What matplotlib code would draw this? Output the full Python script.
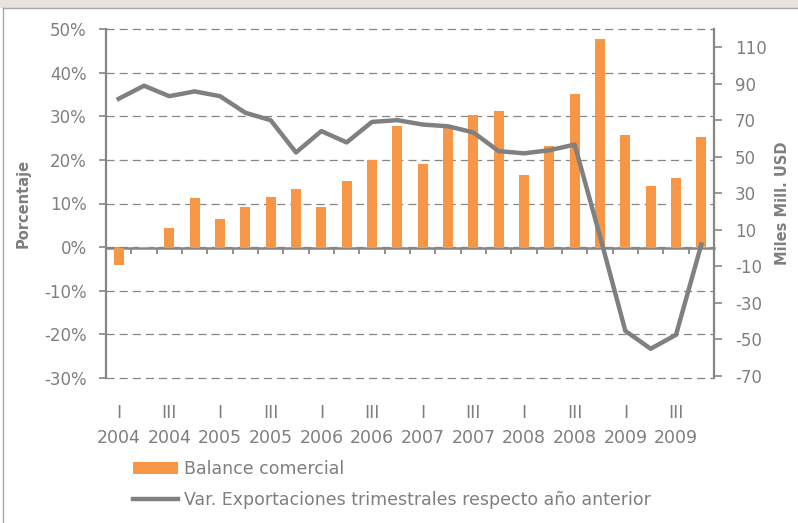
import numpy as np
import matplotlib
matplotlib.use("Agg")
import matplotlib.pyplot as plt
from matplotlib.patches import Rectangle
from matplotlib.lines import Line2D

plt.rcParams['font.family'] = ['DejaVu Sans']
plt.rcParams['axes.unicode_minus'] = False

# Quarterly data 2004 I .. 2009 IV
quarters = ['I', 'II', 'III', 'IV'] * 6
years = [str(y) for y in range(2004, 2010) for _ in range(4)]
balance = [-9.0, 0.8, 10.9, 27.5, 16.0, 22.6, 28.2, 32.5, 22.6, 36.9, 48.4, 67.0,
           46.0, 65.6, 72.9, 75.3, 40.2, 56.1, 84.4, 114.6, 61.9, 34.3, 38.5, 61.0]
export_var = [34.0, 37.0, 34.6, 35.7, 34.6, 30.8, 29.1, 21.7, 26.6, 24.0, 28.7, 29.1,
              28.1, 27.7, 26.3, 22.0, 21.5, 22.2, 23.5, 2.5, -19.2, -23.3, -20.1, 0.6]
left_ticks = list(range(-30, 51, 10))
right_ticks = list(range(-70, 111, 20))

txt = '#7f7f7f'
axis_col = '#868686'
orange = '#F79646'
grey_line = '#808080'

fig = plt.figure(figsize=(7.98, 5.23), dpi=100)

# window-like frame at the top and left
fig.patches.append(Rectangle((0, 1 - 7 / 523), 1, 7 / 523, transform=fig.transFigure,
                             color='#e7e3dc', zorder=0))
fig.lines.append(Line2D([3 / 798, 1], [1 - 8 / 523] * 2, transform=fig.transFigure,
                        color='#a8a8a8', lw=1))
fig.lines.append(Line2D([3 / 798] * 2, [0, 1 - 8 / 523], transform=fig.transFigure,
                        color='#a8a8a8', lw=1))

ax = fig.add_axes([106 / 798, 1 - 378 / 523, 608 / 798, 349 / 523])
ax2 = ax.twinx()

x = np.arange(len(balance))

# left axis: percent, grid
ax.set_ylim(-30, 50)
ax.set_yticks(left_ticks)
ax.set_yticklabels([f'{v}%' for v in left_ticks])
ax.yaxis.grid(True, linestyle=(0, (6.5, 4)), color=axis_col, lw=0.9)
for gl in ax.get_ygridlines():
    gl.set_clip_on(False)
ax.set_axisbelow(True)
ax.set_xlim(-0.5, len(balance) - 0.5)
for s in ['top', 'bottom', 'right']:
    ax.spines[s].set_visible(False)
ax.spines['left'].set_color(axis_col)
ax.spines['left'].set_linewidth(1.6)
ax.tick_params(axis='y', length=5, width=1.2, color=axis_col, labelcolor=txt,
               labelsize=12, pad=9)

ax.set_xticks(x[::2])
ax.set_xticklabels([f'{q}\n{y}' for q, y in zip(quarters[::2], years[::2])],
                   linespacing=1.45)
ax.set_xticks(np.arange(-0.5, len(balance), 1), minor=True)
ax.tick_params(axis='x', which='both', length=0, labelcolor=txt, labelsize=12.5, pad=19)

ax.set_ylabel('Porcentaje', color=txt, fontsize=10.5, fontweight='bold')
ax.yaxis.set_label_coords(-0.124, 0.5)

# right axis: bars in Miles Mill. USD
bars = ax2.bar(x, balance, width=0.4, color=orange, zorder=2,
               label='Balance comercial')
line, = ax2.plot(x, export_var, transform=ax.transData, color=grey_line, lw=3.2,
                 zorder=3, label='Var. Exportaciones trimestrales respecto año anterior')
ax2.set_ylim(-71.2, 120.1)
ax2.set_yticks(right_ticks)
for s in ['top', 'left']:
    ax2.spines[s].set_visible(False)
ax2.spines['right'].set_color(axis_col)
ax2.spines['right'].set_linewidth(1.6)
ax2.spines['bottom'].set_position(('data', 0))
ax2.spines['bottom'].set_color(axis_col)
ax2.spines['bottom'].set_linewidth(1.8)
ax2.spines['bottom'].set_zorder(1.5)
ax2.tick_params(axis='y', length=6, width=1.2, color=axis_col, labelcolor=txt,
                labelsize=12, pad=9)
ax2.xaxis.set_visible(True)
ax2.tick_params(axis='x', which='major', length=0, labelbottom=False, labeltop=False,
                top=False)
ax2.tick_params(axis='x', which='minor', bottom=True, top=False, length=4.5, width=1.3,
                color=axis_col, direction='out')
ax2.set_ylabel('Miles Mill. USD', color=txt, fontsize=10.5, fontweight='bold')
ax2.yaxis.set_label_coords(1.101, 0.5)

fig.legend(handles=[bars, line],
           labels=['Balance comercial', 'Var. Exportaciones trimestrales respecto año anterior'],
           loc='upper left', bbox_to_anchor=(133 / 798, 1 - 460 / 523),
           frameon=False, fontsize=12.5, labelcolor=txt, handlelength=2.6,
           handletextpad=0.35, labelspacing=0.75, borderpad=0, borderaxespad=0)

fig.savefig('out.png', dpi=100)
